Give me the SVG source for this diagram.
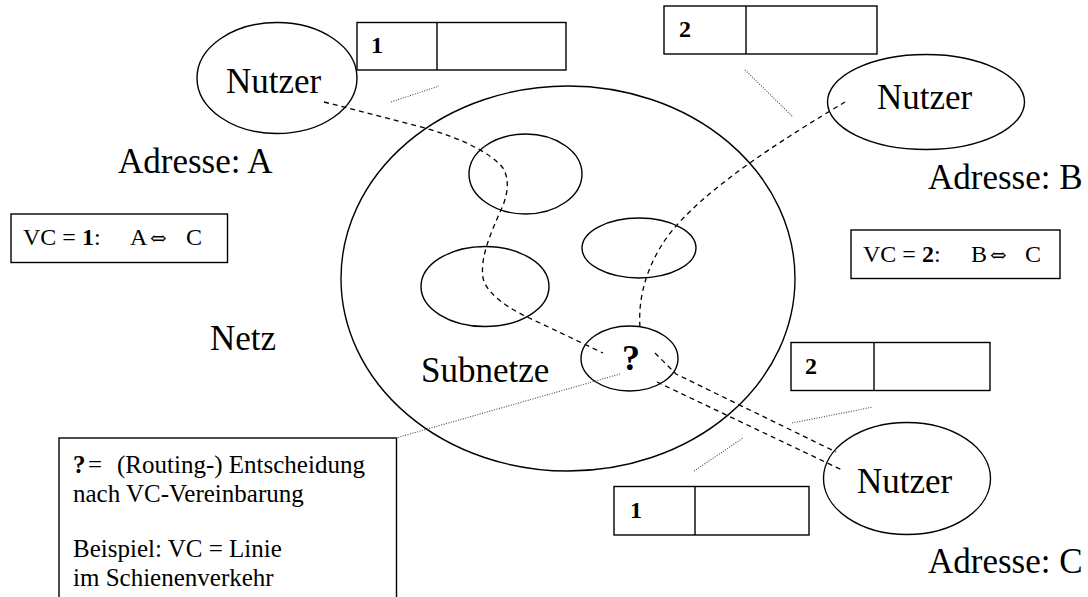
<svg xmlns="http://www.w3.org/2000/svg" width="1088" height="597" viewBox="0 0 1088 597">
<style>
text{font-family:"Liberation Serif","DejaVu Serif",serif;fill:#000}
.big{font-size:35px}
.mid{font-size:24px}
.leg{font-size:25px}
.b{font-weight:bold}
.sym{font-family:"DejaVu Serif",serif;font-size:20px}
.sh{fill:#fff;stroke:#000;stroke-width:1.4}
.ol{fill:none;stroke:#000;stroke-width:1.4}
.dash{fill:none;stroke:#000;stroke-width:1.3;stroke-dasharray:5 4}
.dot{fill:none;stroke:#444;stroke-width:1.1;stroke-dasharray:1 1.5}
</style>
<rect width="1088" height="597" fill="#fff"/>
<g id="netz">
<ellipse class="ol" cx="568" cy="278.5" rx="227" ry="192.5"/>
<text class="big" x="210" y="350">Netz</text>
<text class="big" x="421" y="382">Subnetze</text>
</g>
<g id="subnetz1"><ellipse class="ol" cx="525.5" cy="174" rx="56.5" ry="40"/></g>
<g id="subnetz2"><ellipse class="ol" cx="485" cy="286.5" rx="64" ry="40"/></g>
<g id="subnetz3"><ellipse class="ol" cx="639" cy="248" rx="57" ry="30"/></g>
<g id="router">
<ellipse class="ol" cx="629.5" cy="358.5" rx="48.5" ry="32.5"/>
<text x="622" y="370" font-size="36" class="b">?</text>
</g>
<g id="nutzerA">
<ellipse class="sh" cx="277" cy="78" rx="80" ry="55.5"/>
<text class="big" x="226" y="93">Nutzer</text>
<text class="big" x="118" y="173">Adresse: A</text>
</g>
<g id="nutzerB">
<ellipse class="sh" cx="926" cy="102" rx="98.5" ry="47.5"/>
<text class="big" x="877" y="109">Nutzer</text>
<text class="big" x="928" y="189">Adresse: B</text>
</g>
<g id="nutzerC">
<ellipse class="sh" cx="907" cy="478.5" rx="83.5" ry="56"/>
<text class="big" x="857" y="493">Nutzer</text>
<text class="big" x="928" y="573">Adresse: C</text>
</g>
<g id="paket1oben">
<rect class="sh" x="357" y="22.5" width="209" height="47.5"/>
<line class="ol" x1="437" y1="22.5" x2="437" y2="70"/>
<text class="mid b" x="371" y="53">1</text>
</g>
<g id="paket2oben">
<rect class="sh" x="664" y="6" width="213" height="48"/>
<line class="ol" x1="746" y1="6" x2="746" y2="54"/>
<text class="mid b" x="679" y="37">2</text>
</g>
<g id="paket2unten">
<rect class="sh" x="791" y="342.5" width="199" height="48"/>
<line class="ol" x1="874" y1="342.5" x2="874" y2="390.5"/>
<text class="mid b" x="805" y="374">2</text>
</g>
<g id="paket1unten">
<rect class="sh" x="614" y="486.5" width="195" height="48.5"/>
<line class="ol" x1="695" y1="486.5" x2="695" y2="535"/>
<text class="mid b" x="630" y="518">1</text>
</g>
<g id="vc1">
<rect class="sh" x="11" y="214" width="216.5" height="48.5"/>
<text class="mid" y="245"><tspan x="23">VC = </tspan><tspan class="b">1</tspan><tspan>:</tspan><tspan x="130">A</tspan><tspan x="150" class="sym">⇔</tspan><tspan x="186">C</tspan></text>
</g>
<g id="vc2">
<rect class="sh" x="851" y="230" width="209" height="48.5"/>
<text class="mid" y="262"><tspan x="863">VC = </tspan><tspan class="b">2</tspan><tspan>:</tspan><tspan x="971">B</tspan><tspan x="990" class="sym">⇔</tspan><tspan x="1025">C</tspan></text>
</g>
<g id="legende">
<rect class="sh" x="59" y="438" width="337.5" height="170"/>
<text class="leg" y="473"><tspan x="73" class="b">?</tspan><tspan x="88">=</tspan><tspan x="117">(Routing-) Entscheidung</tspan></text>
<text class="leg" x="73" y="502">nach VC-Vereinbarung</text>
<text class="leg" x="73" y="557">Beispiel: VC = Linie</text>
<text class="leg" x="73" y="586">im Schienenverkehr</text>
</g>
<g id="verbindungen">
<path class="dash" d="M324 102 L425 128 C460 138 490 152 503 168 C510 180 508 196 500 212 C490 235 480 258 483 278 C487 295 510 310 540 323 L603 353"/>
<path class="dash" d="M845 102 C790 135 700 190 665 240 C645 270 638 300 640 328"/>
<path class="dash" d="M655 353 L676 374 L836 452"/>
<path class="dash" d="M657 382 L842 470"/>
<line class="dot" x1="391" y1="102" x2="439" y2="86"/>
<line class="dot" x1="745" y1="70" x2="793" y2="117"/>
<line class="dot" x1="792" y1="423" x2="873" y2="407"/>
<line class="dot" x1="694" y1="471" x2="743" y2="438"/>
<line class="dot" x1="620" y1="374" x2="396" y2="438"/>
</g>
</svg>
